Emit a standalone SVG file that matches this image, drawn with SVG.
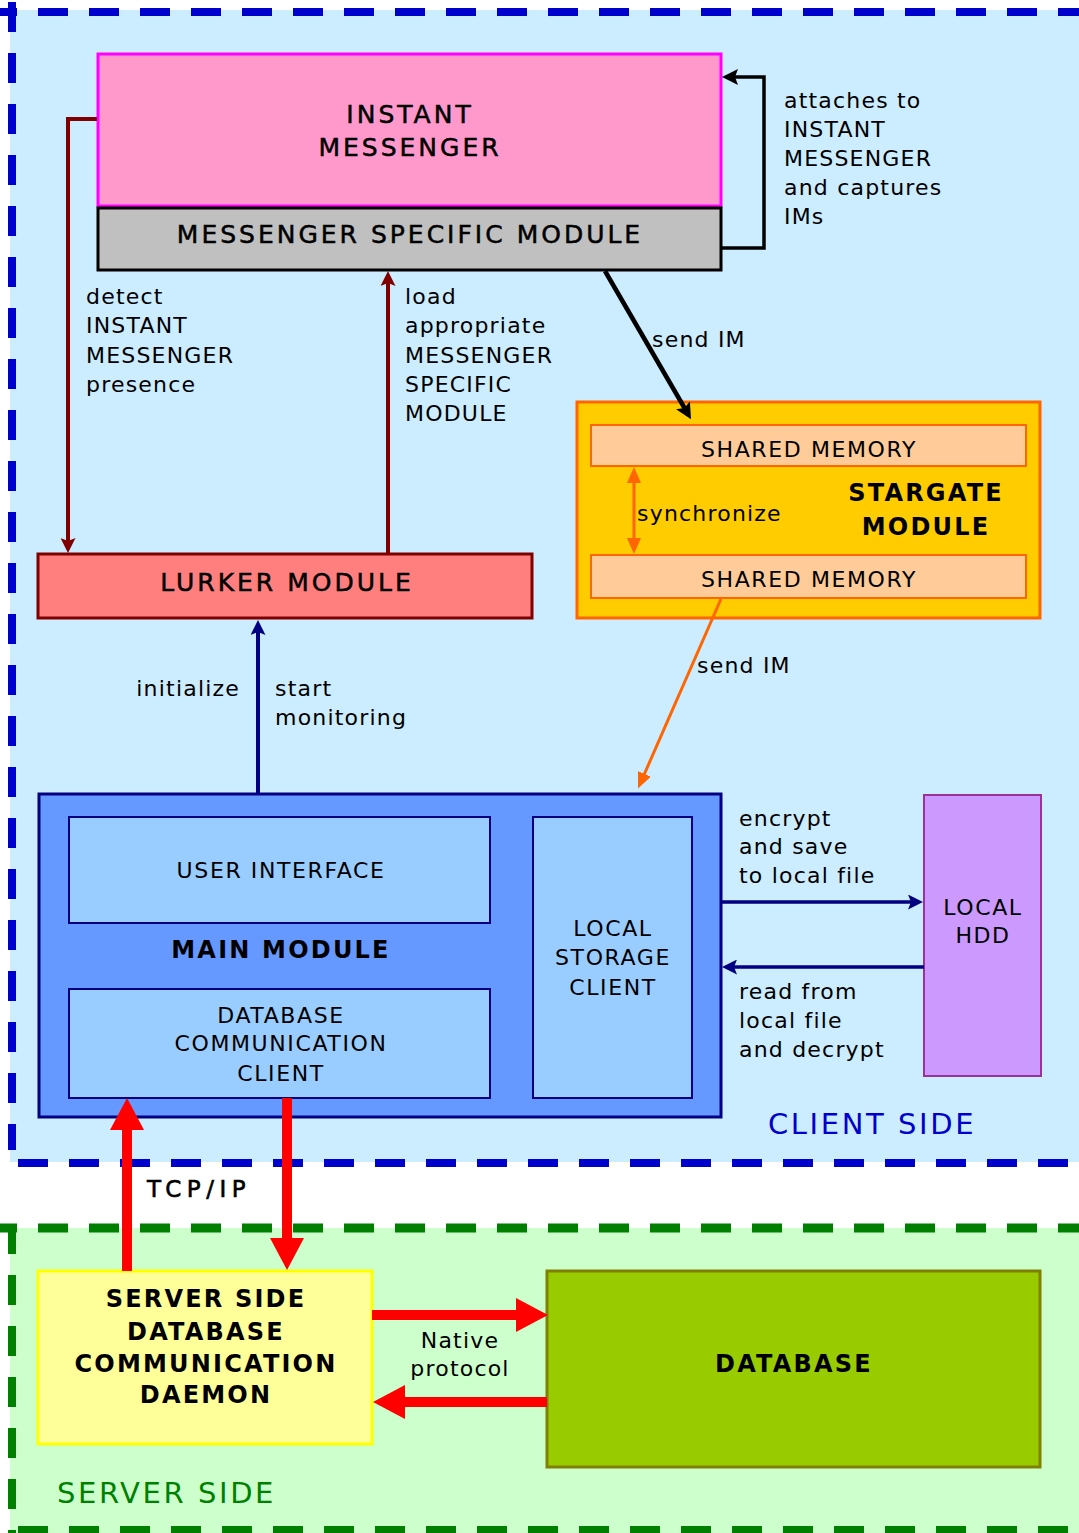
<svg xmlns="http://www.w3.org/2000/svg" width="1079" height="1533" viewBox="0 0 1079 1533">
<defs>
<style>
text{font-family:"DejaVu Sans","Liberation Sans",sans-serif;fill:#000}
.lbl{font-size:22px;letter-spacing:1.2px}
.ttl{font-size:25px;letter-spacing:3px;text-anchor:middle;stroke:#000;stroke-width:0.5px}
.bld{font-size:24px;font-weight:bold;letter-spacing:2.2px;text-anchor:middle}
.in{font-size:22px;letter-spacing:1.6px;text-anchor:middle}
.side{font-size:29px;letter-spacing:2.6px}
.ln{fill:none}
</style>
<marker id="mDR" viewBox="0 0 15 15" markerWidth="15" markerHeight="15" refX="10" refY="7.5" orient="auto" markerUnits="userSpaceOnUse"><path d="M0,0 L15,7.5 L0,15 L3,7.5 z" fill="#800000"/></marker>
<marker id="mNV" viewBox="0 0 15 15" markerWidth="15" markerHeight="15" refX="10" refY="7.5" orient="auto" markerUnits="userSpaceOnUse"><path d="M0,0 L15,7.5 L0,15 L3,7.5 z" fill="#000080"/></marker>
<marker id="mBK" viewBox="0 0 16 16" markerWidth="16" markerHeight="16" refX="10" refY="8" orient="auto" markerUnits="userSpaceOnUse"><path d="M0,0 L16,8 L0,16 L3,8 z" fill="#000"/></marker>
<marker id="mOR" viewBox="0 0 16 14" markerWidth="16" markerHeight="14" refX="11" refY="7" orient="auto-start-reverse" markerUnits="userSpaceOnUse"><path d="M0,0 L16,7 L0,14 z" fill="#FF6600"/></marker>
<marker id="mRD" viewBox="0 0 32 34" markerWidth="32" markerHeight="34" refX="22" refY="17" orient="auto" markerUnits="userSpaceOnUse"><path d="M0,0 L32,17 L0,34 z" fill="#FF0000"/></marker>
</defs>

<g id="client-side">
<rect x="10" y="10" width="1069" height="1152" fill="#CCECFF"/>
<line x1="-13" y1="12" x2="1079" y2="12" stroke="#0000CC" stroke-width="8" stroke-dasharray="30 21"/>
<line x1="12" y1="2" x2="12" y2="1150" stroke="#0000CC" stroke-width="8" stroke-dasharray="30 21"/>
<line x1="18" y1="1163" x2="1079" y2="1163" stroke="#0000CC" stroke-width="8" stroke-dasharray="30 21"/>
<text class="side" x="768" y="1134" style="fill:#0000CC">CLIENT SIDE</text>
</g>

<g id="server-side">
<rect x="10" y="1228" width="1069" height="305" fill="#CCFFCC"/>
<line x1="-13" y1="1228" x2="1079" y2="1228" stroke="#007F00" stroke-width="9" stroke-dasharray="30 21"/>
<line x1="12" y1="1224" x2="12" y2="1533" stroke="#007F00" stroke-width="8" stroke-dasharray="30 21"/>
<line x1="18" y1="1530" x2="1079" y2="1530" stroke="#007F00" stroke-width="8" stroke-dasharray="30 21"/>
<text class="side" x="57" y="1503" style="fill:#008000">SERVER SIDE</text>
</g>

<g id="instant-messenger">
<rect x="98" y="54" width="623" height="152" fill="#FF99CC" stroke="#FF00FF" stroke-width="3"/>
<text class="ttl" x="410" y="123">INSTANT</text>
<text class="ttl" x="410" y="156">MESSENGER</text>
</g>

<g id="messenger-specific-module">
<rect x="98" y="208" width="623" height="62" fill="#C0C0C0" stroke="#000" stroke-width="3"/>
<text class="ttl" x="410" y="243">MESSENGER SPECIFIC MODULE</text>
</g>

<g id="lurker-module">
<rect x="38" y="554" width="494" height="64" fill="#FF7F7F" stroke="#800000" stroke-width="3"/>
<text class="ttl" x="287" y="591">LURKER MODULE</text>
</g>

<g id="stargate-module">
<rect x="577" y="402" width="463" height="216" fill="#FFCC00" stroke="#FF6600" stroke-width="3"/>
<text class="bld" x="926" y="501">STARGATE</text>
<text class="bld" x="926" y="535">MODULE</text>
</g>

<g id="shared-memory-1">
<rect x="591" y="425" width="435" height="41" fill="#FFCC99" stroke="#FF6600" stroke-width="2"/>
<text class="in" x="809" y="457">SHARED MEMORY</text>
</g>

<g id="shared-memory-2">
<rect x="591" y="555" width="435" height="43" fill="#FFCC99" stroke="#FF6600" stroke-width="2"/>
<text class="in" x="809" y="587">SHARED MEMORY</text>
</g>

<g id="main-module">
<rect x="39" y="794" width="682" height="323" fill="#6699FF" stroke="#000080" stroke-width="3"/>
<text class="bld" x="281" y="958">MAIN MODULE</text>
</g>

<g id="user-interface">
<rect x="69" y="817" width="421" height="106" fill="#99CCFF" stroke="#000080" stroke-width="2"/>
<text class="in" x="281" y="878">USER INTERFACE</text>
</g>

<g id="database-communication-client">
<rect x="69" y="989" width="421" height="109" fill="#99CCFF" stroke="#000080" stroke-width="2"/>
<text class="in" x="281" y="1023">DATABASE</text>
<text class="in" x="281" y="1051">COMMUNICATION</text>
<text class="in" x="281" y="1081">CLIENT</text>
</g>

<g id="local-storage-client">
<rect x="533" y="817" width="159" height="281" fill="#99CCFF" stroke="#000080" stroke-width="2"/>
<text class="in" x="613" y="936">LOCAL</text>
<text class="in" x="613" y="965">STORAGE</text>
<text class="in" x="613" y="995">CLIENT</text>
</g>

<g id="local-hdd">
<rect x="924" y="795" width="117" height="281" fill="#CC99FF" stroke="#993399" stroke-width="2"/>
<text class="in" x="983" y="915">LOCAL</text>
<text class="in" x="983" y="943">HDD</text>
</g>

<g id="server-daemon">
<rect x="38" y="1271" width="334" height="173" fill="#FFFF99" stroke="#FFFF00" stroke-width="3"/>
<text class="bld" x="206" y="1307">SERVER SIDE</text>
<text class="bld" x="206" y="1340">DATABASE</text>
<text class="bld" x="206" y="1372">COMMUNICATION</text>
<text class="bld" x="206" y="1403">DAEMON</text>
</g>

<g id="database">
<rect x="547" y="1271" width="493" height="196" fill="#99CC00" stroke="#808000" stroke-width="3"/>
<text class="bld" x="794" y="1372">DATABASE</text>
</g>

<g id="connectors">
<path class="ln" d="M97,119 H68 V548" stroke="#800000" stroke-width="4" marker-end="url(#mDR)"/>
<path class="ln" d="M388,553 V276" stroke="#800000" stroke-width="4" marker-end="url(#mDR)"/>
<path class="ln" d="M721,248 H764 V77 H728" stroke="#000" stroke-width="3.5" marker-end="url(#mBK)"/>
<path class="ln" d="M605,271 L688,414" stroke="#000" stroke-width="4.5" marker-end="url(#mBK)"/>
<path class="ln" d="M634,472 V549" stroke="#FF6600" stroke-width="3" marker-start="url(#mOR)" marker-end="url(#mOR)"/>
<path class="ln" d="M721,599 L640,784" stroke="#FF6600" stroke-width="3" marker-end="url(#mOR)"/>
<path class="ln" d="M258,793 V625" stroke="#000080" stroke-width="4" marker-end="url(#mNV)"/>
<path class="ln" d="M721,902 H918" stroke="#000080" stroke-width="3.5" marker-end="url(#mNV)"/>
<path class="ln" d="M924,967 H727" stroke="#000080" stroke-width="3.5" marker-end="url(#mNV)"/>
<path class="ln" d="M127,1271 V1108" stroke="#FF0000" stroke-width="10" marker-end="url(#mRD)"/>
<path class="ln" d="M287,1098 V1260" stroke="#FF0000" stroke-width="10" marker-end="url(#mRD)"/>
<path class="ln" d="M372,1315 H538" stroke="#FF0000" stroke-width="10" marker-end="url(#mRD)"/>
<path class="ln" d="M547,1402 H383" stroke="#FF0000" stroke-width="10" marker-end="url(#mRD)"/>
</g>

<g id="connector-labels">
<text class="lbl" x="784" y="108">attaches to</text>
<text class="lbl" x="784" y="137">INSTANT</text>
<text class="lbl" x="784" y="166">MESSENGER</text>
<text class="lbl" x="784" y="195">and captures</text>
<text class="lbl" x="784" y="224">IMs</text>
<text class="lbl" x="86" y="304">detect</text>
<text class="lbl" x="86" y="333">INSTANT</text>
<text class="lbl" x="86" y="363">MESSENGER</text>
<text class="lbl" x="86" y="392">presence</text>
<text class="lbl" x="405" y="304">load</text>
<text class="lbl" x="405" y="333">appropriate</text>
<text class="lbl" x="405" y="363">MESSENGER</text>
<text class="lbl" x="405" y="392">SPECIFIC</text>
<text class="lbl" x="405" y="421">MODULE</text>
<text class="lbl" x="652" y="347">send IM</text>
<text class="lbl" x="637" y="521">synchronize</text>
<text class="lbl" x="697" y="673">send IM</text>
<text class="lbl" x="240" y="696" text-anchor="end">initialize</text>
<text class="lbl" x="275" y="696">start</text>
<text class="lbl" x="275" y="725">monitoring</text>
<text class="lbl" x="739" y="826">encrypt</text>
<text class="lbl" x="739" y="854">and save</text>
<text class="lbl" x="739" y="883">to local file</text>
<text class="lbl" x="739" y="999">read from</text>
<text class="lbl" x="739" y="1028">local file</text>
<text class="lbl" x="739" y="1057">and decrypt</text>
<text class="lbl" x="147" y="1197" style="font-size:23px;letter-spacing:5.5px;stroke:#000;stroke-width:0.6px">TCP/IP</text>
<text class="lbl" x="460" y="1348" text-anchor="middle">Native</text>
<text class="lbl" x="460" y="1376" text-anchor="middle">protocol</text>
</g>
</svg>
